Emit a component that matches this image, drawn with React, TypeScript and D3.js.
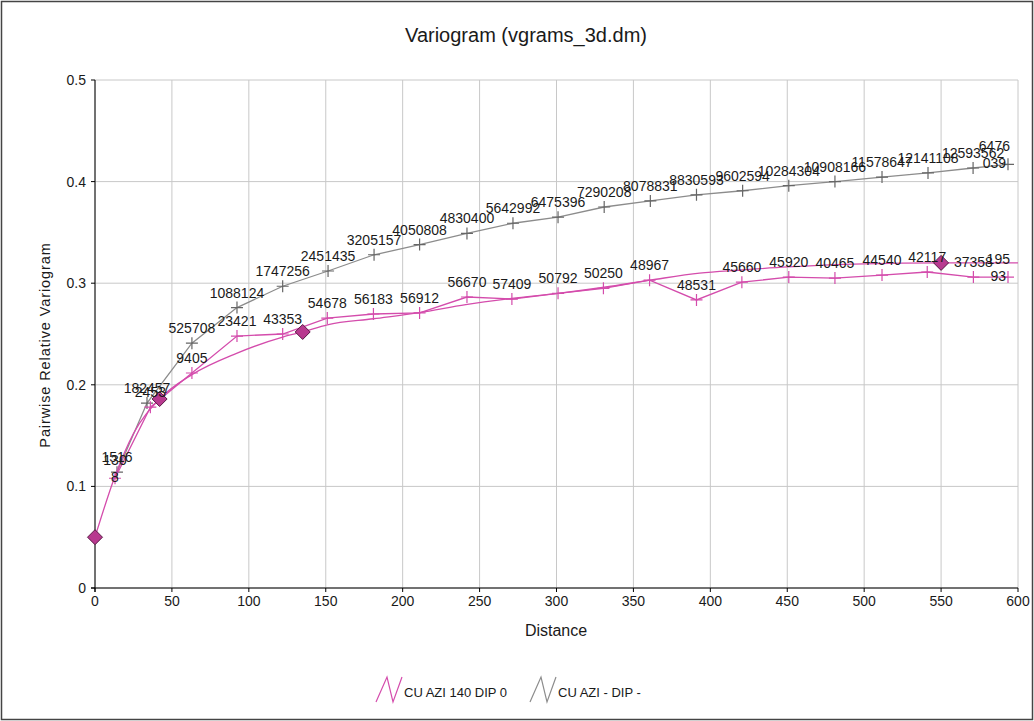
import React from 'react';
import * as d3 from 'd3';

// experimental variogram, omni-directional (grey)
const lagsOmni = [14.3, 33.8, 63, 92.3, 122, 151.5, 181.4, 211, 241.8, 271.7, 301, 331, 361, 391, 421, 451, 481, 511.6, 541.5, 570.8, 593.5];
const vgOmni = [0.114, 0.182, 0.241, 0.276, 0.297, 0.312, 0.328, 0.338, 0.349, 0.359, 0.365, 0.375, 0.381, 0.387, 0.391, 0.396, 0.4, 0.4045, 0.4085, 0.4134, 0.417];
const pairsOmni = ['1516', '182457', '525708', '1088124', '1747256', '2451435', '3205157', '4050808', '4830400', '5642992', '6475396', '7290208', '8078831', '8830593', '9602594', '10284304', '10908166', '11578647', '12141108', '12593562', '6476\n039'];

// experimental variogram, AZI 140 DIP 0 (pink)
const lagsDir = [13, 36, 63, 92.3, 122, 151, 181, 211, 241.8, 271, 301, 330.5, 360.5, 391, 420.5, 451, 481, 511.6, 541, 571, 593.5];
const vgDir = [0.108, 0.178, 0.2116, 0.248, 0.25, 0.2657, 0.2697, 0.2707, 0.2864, 0.2844, 0.29, 0.295, 0.303, 0.2835, 0.301, 0.306, 0.305, 0.308, 0.311, 0.306, 0.306];
const pairsDir = ['130\n8', '2453', '9405', '23421', '43353', '54678', '56183', '56912', '56670', '57409', '50792', '50250', '48967', '48531', '45660', '45920', '40465', '44540', '42117', '37358', '195\n93'];

// fitted model
const modelLags = [0, 13, 25, 42, 63, 92, 122, 135, 151, 181, 211, 241, 271, 301, 331, 361, 393, 420, 450, 500, 550, 600];
const modelVals = [0.05, 0.11, 0.152, 0.186, 0.21, 0.231, 0.247, 0.252, 0.259, 0.265, 0.271, 0.279, 0.285, 0.29, 0.296, 0.303, 0.31, 0.313, 0.316, 0.319, 0.32, 0.32];
const structLags = [0, 42, 135, 550];
const structVals = [0.05, 0.186, 0.252, 0.32];

const xTicks = [0, 50, 100, 150, 200, 250, 300, 350, 400, 450, 500, 550, 600];
const yTicks = [0, 0.1, 0.2, 0.3, 0.4, 0.5];
const legendNames = ['CU AZI 140 DIP 0', 'CU AZI - DIP -'];

const W = 1034;
const H = 721;
const m = { left: 95, right: 1018, top: 80, bottom: 588 };
const PINK = '#d44cac';
const GREY = '#8c8c8c';
const FONT = '"Liberation Sans", Arial, sans-serif';

const x = d3.scaleLinear().domain([0, 600]).range([m.left, m.right]);
const y = d3.scaleLinear().domain([0, 0.5]).range([m.bottom, m.top]);

function Label({ px, py, text }: { px: number; py: number; text: string }) {
    const lines = text.split('\n');
    const w = d3.max(lines, l => l.length * 7.8) ?? 0;
    let cx = px;
    if (cx + w / 2 > m.right - 8) cx = m.right - 8 - w / 2;
    const lh = 17;
    const baseLast = lines.length > 1 ? py + 4 : py - 10;
    return (
        <text textAnchor="middle" fontSize={14} fontFamily={FONT} fill="#1a1a1a">
            {lines.map((l, i) => (
                <tspan key={i} x={cx} y={baseLast - (lines.length - 1 - i) * lh}>{l}</tspan>
            ))}
        </text>
    );
}

function Plus({ px, py, color }: { px: number; py: number; color: string }) {
    return <path d={`M${px - 6},${py}H${px + 6}M${px},${py - 6}V${py + 6}`} stroke={color} strokeWidth={1.2} />;
}

export default function App() {
    const line = d3.line<[number, number]>().x(d => x(d[0])).y(d => y(d[1]));
    const smooth = d3.line<[number, number]>().x(d => x(d[0])).y(d => y(d[1])).curve(d3.curveMonotoneX);
    const omni = lagsOmni.map((l, i) => [l, vgOmni[i]] as [number, number]);
    const dir = lagsDir.map((l, i) => [l, vgDir[i]] as [number, number]);
    const model = modelLags.map((l, i) => [l, modelVals[i]] as [number, number]);

    return (
        <div style={{ position: 'absolute', left: 0, top: 0 }}>
            <svg width={W} height={H} style={{ display: 'block', background: '#fff' }}>
                <rect x={1.5} y={1.5} width={W - 3} height={H - 3} fill="none" stroke="#444" strokeWidth={1.5} />
                <text x={526} y={42} textAnchor="middle" fontSize={20} fontFamily={FONT} fill="#1a1a1a">
                    Variogram (vgrams_3d.dm)
                </text>

                {/* grid */}
                {xTicks.map(t => (
                    <line key={'gx' + t} x1={x(t)} x2={x(t)} y1={m.top} y2={m.bottom} stroke="#c8c8c8" />
                ))}
                {yTicks.map(t => (
                    <line key={'gy' + t} x1={m.left} x2={m.right} y1={y(t)} y2={y(t)} stroke="#c8c8c8" />
                ))}

                {/* axes */}
                <line x1={m.left} x2={m.left} y1={m.top} y2={m.bottom + 4} stroke="#000" />
                <line x1={m.left - 4} x2={m.right} y1={m.bottom} y2={m.bottom} stroke="#000" />
                {xTicks.map(t => (
                    <g key={'xt' + t}>
                        <line x1={x(t)} x2={x(t)} y1={m.bottom} y2={m.bottom + 4} stroke="#000" />
                        <text x={x(t)} y={m.bottom + 18} textAnchor="middle" fontSize={14} fontFamily={FONT} fill="#1a1a1a">{t}</text>
                    </g>
                ))}
                {yTicks.map(t => (
                    <g key={'yt' + t}>
                        <line x1={m.left - 4} x2={m.left} y1={y(t)} y2={y(t)} stroke="#000" />
                        <text x={m.left - 9} y={y(t) + 5} textAnchor="end" fontSize={14} fontFamily={FONT} fill="#1a1a1a">{t === 0 ? '0' : t.toFixed(1)}</text>
                    </g>
                ))}
                <text x={556} y={636} textAnchor="middle" fontSize={16} fontFamily={FONT} fill="#1a1a1a">Distance</text>
                <text transform="translate(50,345) rotate(-90)" textAnchor="middle" fontSize={14.5} letterSpacing={0.9} fontFamily={FONT} fill="#1a1a1a">
                    Pairwise Relative Variogram
                </text>

                {/* series */}
                <path d={line(omni) ?? ''} fill="none" stroke={GREY} strokeWidth={1.3} />
                {omni.map((d, i) => <Plus key={'po' + i} px={x(d[0])} py={y(d[1])} color="#666" />)}
                <path d={line(dir) ?? ''} fill="none" stroke={PINK} strokeWidth={1.3} />
                {dir.map((d, i) => <Plus key={'pd' + i} px={x(d[0])} py={y(d[1])} color={PINK} />)}
                <path d={smooth(model) ?? ''} fill="none" stroke={PINK} strokeWidth={1.3} />
                {structLags.map((l, i) => {
                    const px = x(l), py = y(structVals[i]);
                    return <path key={'dm' + i} d={`M${px},${py - 7.5}L${px + 7.5},${py}L${px},${py + 7.5}L${px - 7.5},${py}Z`} fill="#b8398f" stroke="#5a1a45" strokeWidth={1} />;
                })}

                {/* pair count labels */}
                {omni.map((d, i) => <Label key={'lo' + i} px={x(d[0])} py={y(d[1])} text={pairsOmni[i]} />)}
                {dir.map((d, i) => <Label key={'ld' + i} px={x(d[0])} py={y(d[1])} text={pairsDir[i]} />)}

                {/* legend */}
                {legendNames.map((name, i) => {
                    const lx = i === 0 ? 376 : 530;
                    const col = i === 0 ? PINK : GREY;
                    return (
                        <g key={'lg' + i}>
                            <path d={`M${lx},702L${lx + 11},677L${lx + 17},702L${lx + 26},677`} fill="none" stroke={col} strokeWidth={1.2} />
                            <text x={lx + 28} y={697} fontSize={13} fontFamily={FONT} fill="#1a1a1a">{name}</text>
                        </g>
                    );
                })}
            </svg>
        </div>
    );
}
